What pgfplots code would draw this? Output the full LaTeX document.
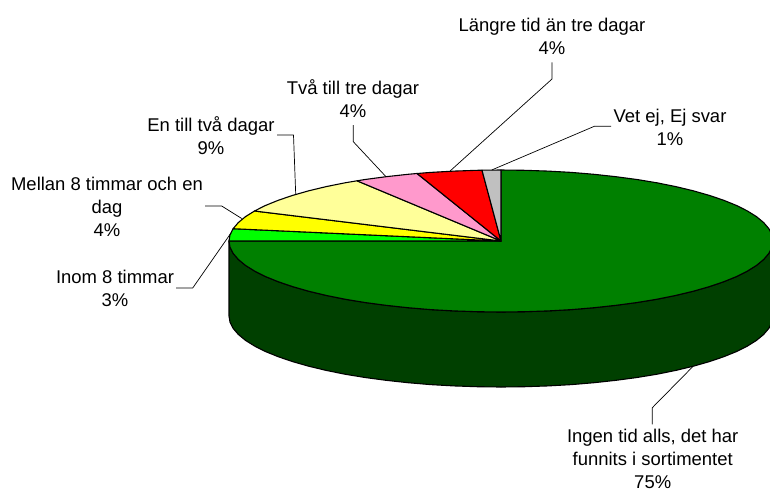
\documentclass[border=0pt]{standalone}
\usepackage{fontspec}
\setmainfont{Liberation Sans}
\usepackage{pgfplots}
\pgfplotsset{compat=1.18}
\definecolor{wall}{HTML}{004000}
\definecolor{pgreen}{HTML}{008000}
\definecolor{pbright}{HTML}{00FF00}
\definecolor{pyellow}{HTML}{FFFF00}
\definecolor{ppale}{HTML}{FFFF99}
\definecolor{ppink}{HTML}{FF99CC}
\definecolor{pred}{HTML}{FF0000}
\definecolor{pgray}{HTML}{C0C0C0}
\begin{document}
\begin{tikzpicture}
\path[use as bounding box] (0,0) rectangle (770pt,491pt);
\begin{axis}[at={(0,0)},anchor=south west,scale only axis,width=770pt,height=491pt,
  xmin=0,xmax=770,ymin=0,ymax=491,y dir=reverse,hide axis,
  every axis plot/.append style={line join=round,no markers}]
% side wall
\addplot[fill=wall,draw=black,line width=1.1pt] coordinates {(229,241)(230,247.2)(233.1,253.3)(238.3,259.4)(245.4,265.3)(254.5,271)(265.4,276.5)(278.2,281.7)(292.6,286.6)(308.7,291.2)(326.2,295.4)(345,299.2)(365,302.5)(386,305.3)(408,307.7)(430.6,309.6)(453.8,310.9)(477.3,311.7)(501,312)(524.7,311.7)(548.2,310.9)(571.4,309.6)(594,307.7)(616,305.3)(637,302.5)(657,299.2)(675.8,295.4)(693.3,291.2)(709.4,286.6)(723.8,281.7)(736.6,276.5)(747.5,271)(756.6,265.3)(763.7,259.4)(768.9,253.3)(772,247.2)(773,241)
(773,316)(772,322.2)(768.9,328.3)(763.7,334.4)(756.6,340.3)(747.5,346)(736.6,351.5)(723.8,356.7)(709.4,361.6)(693.3,366.2)(675.8,370.4)(657,374.2)(637,377.5)(616,380.3)(594,382.7)(571.4,384.6)(548.2,385.9)(524.7,386.7)(501,387)(477.3,386.7)(453.8,385.9)(430.6,384.6)(408,382.7)(386,380.3)(365,377.5)(345,374.2)(326.2,370.4)(308.7,366.2)(292.6,361.6)(278.2,356.7)(265.4,351.5)(254.5,346)(245.4,340.3)(238.3,334.4)(233.1,328.3)(230,322.2)(229,316)} --cycle;
% Ingen tid alls
\addplot[fill=pgreen,draw=black,line width=1.1pt] coordinates {(501,241)(501,170)(524.7,170.3)(548.2,171.1)(571.4,172.4)(594,174.3)(616,176.7)(637,179.5)(657,182.8)(675.8,186.6)(693.3,190.8)(709.4,195.4)(723.8,200.3)(736.6,205.5)(747.5,211)(756.6,216.7)(763.7,222.6)(768.9,228.7)(772,234.8)(773,241)(772,247.2)(768.9,253.3)(763.7,259.4)(756.6,265.3)(747.5,271)(736.6,276.5)(723.8,281.7)(709.4,286.6)(693.3,291.2)(675.8,295.4)(657,299.2)(637,302.5)(616,305.3)(594,307.7)(571.4,309.6)(548.2,310.9)(524.7,311.7)(501,312)(477.3,311.7)(453.8,310.9)(430.6,309.6)(408,307.7)(386,305.3)(365,302.5)(345,299.2)(326.2,295.4)(308.7,291.2)(292.6,286.6)(278.2,281.7)(265.4,276.5)(254.5,271)(245.4,265.3)(238.3,259.4)(233.1,253.3)(230,247.2)(229,241)} --cycle;
% Inom 8 timmar
\addplot[fill=pbright,draw=black,line width=1.1pt] coordinates {(501,241)(229,241)(230,234.8)(233.1,228.7)} --cycle;
% Mellan 8 timmar och en dag
\addplot[fill=pyellow,draw=black,line width=1.1pt] coordinates {(501,241)(233.1,228.7)(238.3,222.6)(245.4,216.7)(254.5,211)} --cycle;
% En till tva dagar
\addplot[fill=ppale,draw=black,line width=1.1pt] coordinates {(501,241)(254.5,211)(265.4,205.5)(278.2,200.3)(292.6,195.4)(308.7,190.8)(326.2,186.6)(345,182.8)(357,180.8)} --cycle;
% Tva till tre dagar
\addplot[fill=ppink,draw=black,line width=1.1pt] coordinates {(501,241)(357,180.8)(365,179.5)(386,176.7)(408,174.3)(417,173.5)} --cycle;
% Langre tid
\addplot[fill=pred,draw=black,line width=1.1pt] coordinates {(501,241)(417,173.5)(430.6,172.4)(453.8,171.1)(477.3,170.3)(482,170.2)} --cycle;
% Vet ej
\addplot[fill=pgray,draw=black,line width=1.1pt] coordinates {(501,241)(482,170.2)(501,170)} --cycle;
% leaders
\addplot[black,line width=0.7pt] coordinates {(277,135)(293.5,135)(295.7,194)};
\addplot[black,line width=0.7pt] coordinates {(205,206)(221.7,206)(241.7,218.5)};
\addplot[black,line width=0.7pt] coordinates {(176,288)(192.7,288)(231,233)};
\addplot[black,line width=0.7pt] coordinates {(353.3,125)(353.3,141.7)(386,176.7)};
\addplot[black,line width=0.7pt] coordinates {(552,62.3)(552,79)(449.3,171.7)};
\addplot[black,line width=0.7pt] coordinates {(611,126.3)(594.3,126.3)(491.7,170)};
\addplot[black,line width=0.7pt] coordinates {(652.3,424.3)(652.3,407.7)(692.7,366.7)};
% labels
\begin{scope}[every node/.style={align=center,inner sep=0pt,font=\fontsize{18.45pt}{23pt}\selectfont}]
\node at (axis cs:552,36) {Längre tid än tre dagar\\4\%};
\node at (axis cs:670,127) {Vet ej, Ej svar\\1\%};
\node at (axis cs:353,99) {Två till tre dagar\\4\%};
\node at (axis cs:211,135.5) {En till två dagar\\9\%};
\node at (axis cs:107,206.5) {Mellan 8 timmar och en\\dag\\4\%};
\node at (axis cs:115,288) {Inom 8 timmar\\3\%};
\node at (axis cs:652.7,459) {Ingen tid alls, det har\\funnits i sortimentet\\75\%};
\end{scope}
\end{axis}
\end{tikzpicture}
\end{document}
